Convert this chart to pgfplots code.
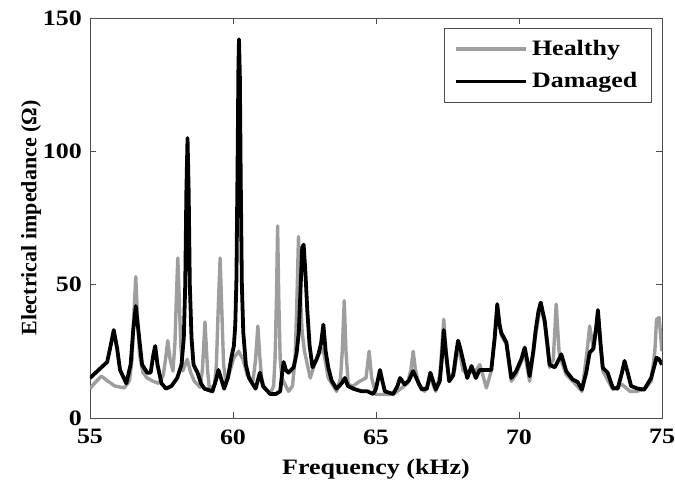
\documentclass[border=0pt]{standalone}
\usepackage{fontspec}
\setmainfont[FakeStretch=1.18]{Liberation Serif}
\newfontfamily\ylabfont{Liberation Serif}
\usepackage{pgfplots}
\pgfplotsset{compat=1.18}
\definecolor{healthy}{gray}{0.62}
\begin{document}
\begin{tikzpicture}
\begin{axis}[
 name=ax,
 scale only axis, width=286pt, height=200pt,
 xmin=55, xmax=75, ymin=0, ymax=150,
 xtick={55,60,65,70,75}, ytick={0,50,100,150},
 tick align=inside, major tick length=3pt,
 axis line style={black!70}, tick style={black!70},
 ticklabel style={font=\fontsize{11}{13}\selectfont\bfseries},
 xticklabel style={yshift=-2.2pt},
 yticklabel style={xshift=-0.5pt},
 /pgf/number format/assume math mode=true,
 xlabel={Frequency (kHz)}, ylabel={Electrical impedance (Ω)},
 xlabel style={font=\fontsize{11}{13}\selectfont\bfseries, at={(axis description cs:0.5,-0.127)}, anchor=center},
 ylabel style={font=\fontsize{11}{13}\selectfont\ylabfont\bfseries, at={(axis description cs:-0.1031,0.5)}, anchor=center},
 legend cell align=left,
 legend style={at={(axis description cs:0.982,0.976)}, anchor=north east,
   draw=black!70, font=\fontsize{11}{13}\selectfont\bfseries,
   inner xsep=5pt, inner ysep=4pt, row sep=3pt},
 legend image code/.code={\draw[#1] (0pt,0pt) -- (35pt,0pt);},
 line join=round,
]
\addplot[healthy, line width=1.7pt] coordinates {
(55.0,11) (55.15,13) (55.4,15.7) (55.6,14) (55.87,12) (56.2,11.3) (56.38,14) (56.47,22) (56.53,38) (56.6,53) (56.66,38) (56.73,24)
(56.85,17) (57.0,15) (57.2,13.8) (57.4,13) (57.56,16) (57.64,22) (57.72,29) (57.8,22) (57.9,17.6) (57.97,28) (58.02,45)
(58.07,60) (58.12,45) (58.17,28) (58.24,17.6) (58.4,22) (58.52,17) (58.65,13.8) (58.85,11.5) (58.93,18) (58.98,28) (59.02,36) (59.06,28) (59.11,18)
(59.17,11.3) (59.35,12) (59.42,20) (59.48,40) (59.55,60) (59.61,40) (59.67,20) (59.75,13.8) (59.85,16) (60.03,22.6) (60.2,25) (60.35,22)
(60.5,16) (60.7,14) (60.79,22) (60.87,34.5) (60.93,24) (61.0,15) (61.08,11.3) (61.3,9) (61.42,12) (61.47,22) (61.52,45) (61.56,72)
(61.6,45) (61.65,22) (61.71,15) (61.94,10) (62.08,12) (62.17,22) (62.23,42) (62.29,68) (62.35,48) (62.42,32) (62.5,25) (62.7,15) (62.85,20)
(63.0,24) (63.15,26) (63.33,15) (63.62,10) (63.76,15) (63.82,25) (63.89,44) (63.95,25) (64.03,12.6) (64.2,12) (64.43,13.8)
(64.65,15) (64.76,25) (64.85,15) (65.0,8.8) (65.3,8.8) (65.6,8.8) (65.9,11.3) (66.1,13) (66.22,18) (66.3,25)
(66.38,18) (66.5,12.6) (66.7,10) (66.9,15) (67.09,10) (67.23,16) (67.3,26) (67.37,37) (67.44,26) (67.56,13.8) (67.75,18)
(67.87,27.6) (68.05,17.6) (68.25,17.6) (68.45,17) (68.63,20) (68.86,11.3) (69.03,17.6) (69.15,30) (69.24,40.5) (69.38,31)
(69.56,27.6) (69.73,13.8) (69.9,16.3) (70.2,24.5) (70.37,13.8) (70.58,31) (70.76,42.7) (70.9,35) (71.07,19) (71.2,22)
(71.3,42.7) (71.4,25) (71.48,21.4) (71.65,16.3) (71.88,13.8) (72.2,10) (72.38,25) (72.47,34.5) (72.6,26) (72.76,39)
(72.93,17.6) (73.28,10.7) (73.6,12.6) (73.88,10) (74.1,10) (74.38,10.7) (74.62,13.8) (74.75,25) (74.81,37) (74.9,37.7)
(75.0,25)
};
\addlegendentry{Healthy}
\addplot[black, line width=1.9pt] coordinates {
(55.0,15) (55.2,17) (55.4,19) (55.6,21) (55.7,26) (55.83,33) (55.95,26) (56.05,18) (56.27,13) (56.42,20)
(56.52,34) (56.6,42) (56.7,32) (56.82,20) (57.0,17) (57.12,17) (57.22,24) (57.28,27) (57.36,20) (57.5,13)
(57.66,11) (57.85,12) (58.05,15) (58.2,20) (58.28,30) (58.33,50) (58.37,85) (58.41,105) (58.45,85) (58.49,50) (58.55,30) (58.62,20)
(58.76,17) (58.88,13) (59.0,11) (59.28,10) (59.4,14) (59.49,18) (59.58,15) (59.69,11) (59.82,15) (59.95,23)
(60.03,27) (60.08,35) (60.12,52) (60.16,95) (60.19,132) (60.21,142) (60.24,128) (60.27,90) (60.31,50) (60.36,32) (60.45,20) (60.56,15) (60.79,11) (60.94,17)
(61.05,12) (61.3,9) (61.5,9) (61.65,10) (61.72,17) (61.77,21) (61.85,18) (61.94,17) (62.12,19) (62.22,24)
(62.3,32) (62.36,48) (62.42,64) (62.47,65) (62.53,55) (62.6,40) (62.68,27) (62.78,19) (62.92,22) (62.99,24) (63.08,28)
(63.16,35) (63.24,25) (63.33,19) (63.45,14) (63.62,11) (63.8,13) (63.91,15) (64.02,12) (64.2,11) (64.5,10)
(64.7,10) (64.9,9) (65.0,11) (65.14,18) (65.22,14) (65.31,10) (65.6,9) (65.75,12) (65.84,15) (66.0,12.6)
(66.15,14) (66.3,17.6) (66.45,14) (66.6,10.7) (66.78,11) (66.9,17) (67.09,10.7) (67.23,13.8) (67.3,22) (67.37,33)
(67.45,24) (67.56,13.8) (67.7,16) (67.8,24) (67.87,29) (67.95,26) (68.05,21.4) (68.19,15) (68.34,19.5) (68.49,15)
(68.62,18) (68.8,18) (69.03,18) (69.15,30) (69.24,42.7) (69.32,35) (69.38,32) (69.56,28.3) (69.73,15) (69.9,17.6)
(70.08,22) (70.2,26.4) (70.28,22) (70.37,15.7) (70.5,25) (70.58,32.7) (70.68,40) (70.76,43.3) (70.9,36.4) (71.0,27)
(71.07,20) (71.25,19) (71.35,21) (71.48,23.9) (71.65,17.6) (71.88,14.4) (72.05,13.5) (72.2,10.7) (72.35,17) (72.47,24.5)
(72.6,26) (72.7,34) (72.76,40.5) (72.85,28) (72.93,18.8) (73.1,17) (73.28,11.3) (73.45,11) (73.6,17) (73.69,21.4)
(73.8,17) (73.92,12) (74.15,11) (74.38,10.7) (74.62,15) (74.81,22.6) (74.9,22) (75.0,20)
};
\addlegendentry{Damaged}
\end{axis}
\pgfresetboundingbox
\useasboundingbox ([shift={(-45pt,-35.5pt)}]ax.south west) rectangle ([shift={(6.5pt,9pt)}]ax.north east);
\end{tikzpicture}
\end{document}
